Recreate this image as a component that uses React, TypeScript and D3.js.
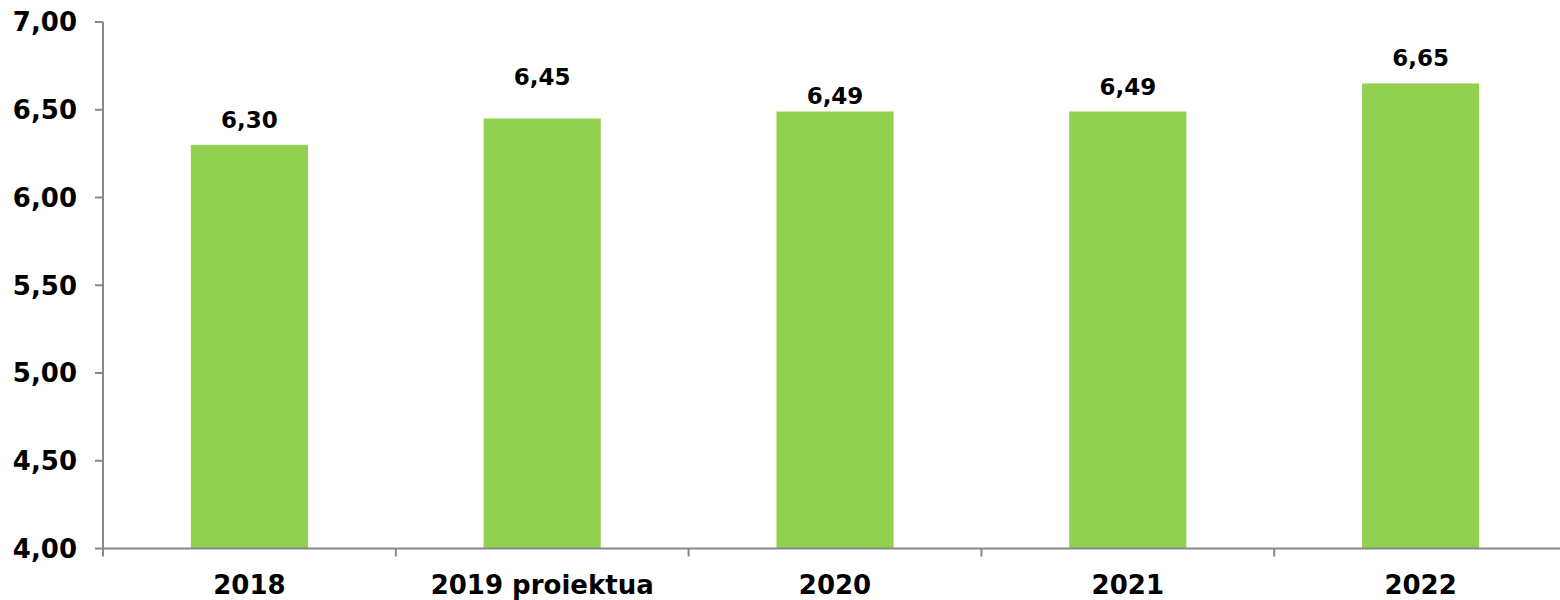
import React from "react";
import * as d3 from "d3";

const categories = ["2018", "2019 proiektua", "2020", "2021", "2022"];
const values = [6.3, 6.45, 6.49, 6.49, 6.65];
const yTicks = [4.0, 4.5, 5.0, 5.5, 6.0, 6.5, 7.0];
const labelLift = [17, 34, 7.5, 17, 17];

const W = 1560;
const H = 600;
const left = 103;
const right = 1567;
const top = 22;
const bottom = 548.5;
const axisColor = "#878787";
const barColor = "#92D050";
const font = "'DejaVu Sans', Verdana, sans-serif";

const fmt = (v: number) => d3.format(".2f")(v).replace(".", ",");

export default function App() {
  const x = d3.scaleBand<string>().domain(categories).range([left, right]).padding(0);
  const y = d3.scaleLinear().domain([4, 7]).range([bottom, top]);
  const bw = x.bandwidth();
  const barW = bw * 0.4;
  const bounds = categories.map((c) => x(c) as number).concat([right]);

  return (
    <svg
      width={W}
      height={H}
      style={{ position: "absolute", left: 0, top: 0, background: "#fff" }}
      fontFamily={font}
    >
      {categories.map((c, i) => {
        const cx = (x(c) as number) + bw / 2;
        const yt = y(values[i]);
        return (
          <g key={c}>
            <rect x={cx - barW / 2} y={yt} width={barW} height={bottom - yt} fill={barColor} />
            <text
              x={cx}
              y={yt - labelLift[i]}
              textAnchor="middle"
              fontSize={23}
              fontWeight="bold"
              fill="#000"
            >
              {fmt(values[i])}
            </text>
            <text x={cx} y={594} textAnchor="middle" fontSize={26} fontWeight="bold" fill="#000">
              {c}
            </text>
          </g>
        );
      })}
      {/* y axis */}
      <line x1={left} x2={left} y1={top} y2={bottom} stroke={axisColor} strokeWidth={2} />
      {yTicks.map((t) => (
        <g key={t}>
          <line x1={left - 8} x2={left} y1={y(t)} y2={y(t)} stroke={axisColor} strokeWidth={2} />
          <text
            x={77}
            y={y(t)}
            dy="0.36em"
            textAnchor="end"
            fontSize={26}
            fontWeight="bold"
            fill="#000"
          >
            {fmt(t)}
          </text>
        </g>
      ))}
      {/* x axis */}
      <line x1={left} x2={right} y1={bottom} y2={bottom} stroke={axisColor} strokeWidth={2} />
      {bounds.map((b, i) => (
        <line key={i} x1={b} x2={b} y1={bottom} y2={bottom + 8} stroke={axisColor} strokeWidth={2} />
      ))}
    </svg>
  );
}
